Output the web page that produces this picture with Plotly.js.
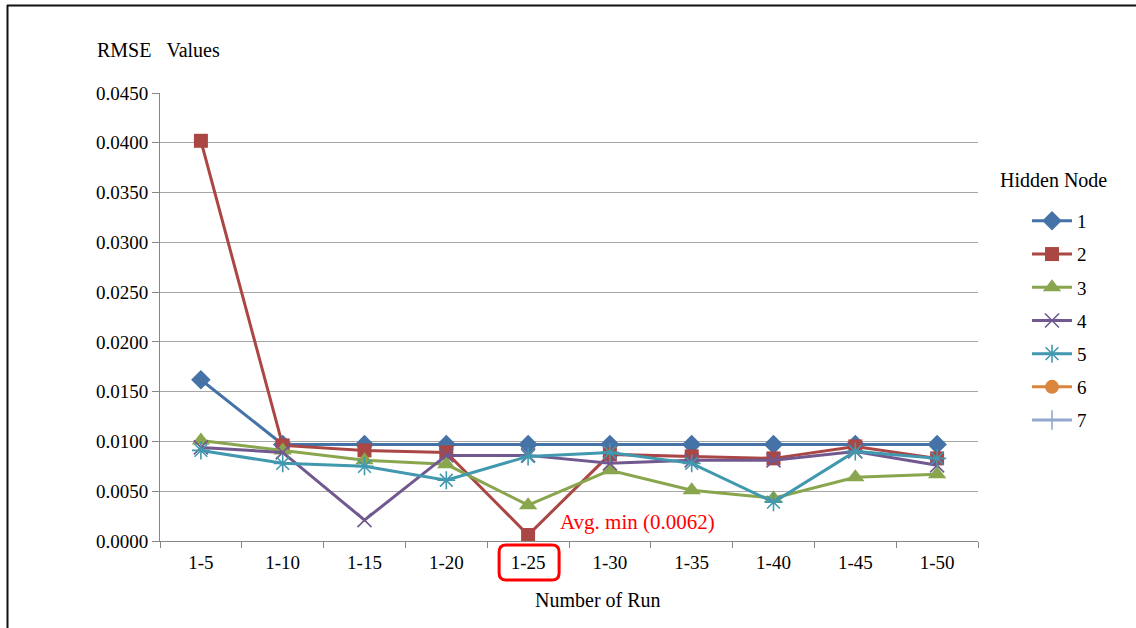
<!DOCTYPE html>
<html>
<head>
<meta charset="utf-8">
<script src="https://cdn.plot.ly/plotly-3.0.1.min.js"></script>
<style>
  html, body { margin: 0; padding: 0; background: #fff; }
  #chart { width: 1136px; height: 628px; }
</style>
</head>
<body>
<div id="chart"></div>
<script>
// Run ranges on the x axis
const runs = ['1-5', '1-10', '1-15', '1-20', '1-25', '1-30', '1-35', '1-40', '1-45', '1-50'];

// RMSE per hidden-node count
const node1 = [0.0162, 0.0097, 0.0097, 0.0097, 0.0097, 0.0097, 0.0097, 0.0097, 0.0097, 0.0097];
const node2 = [0.0402, 0.0096, 0.0091, 0.0089, 0.0006, 0.0087, 0.0085, 0.0083, 0.0095, 0.0083];
const node3 = [0.0101, 0.0091, 0.0081, 0.0077, 0.0036, 0.0071, 0.0051, 0.0043, 0.0064, 0.0067];
const node4 = [0.0094, 0.0089, 0.0021, 0.0086, 0.0086, 0.0078, 0.0081, 0.0081, 0.0090, 0.0076];
const node5 = [0.0091, 0.0078, 0.0075, 0.0061, 0.0085, 0.0089, 0.0078, 0.0039, 0.0090, 0.0083];
const node6 = [null, null, null, null, null, null, null, null, null, null];
const node7 = [null, null, null, null, null, null, null, null, null, null];

const nodeNames = ['1', '2', '3', '4', '5', '6', '7'];
const nodeSeries = [node1, node2, node3, node4, node5, node6, node7];

// Series styling
const colors = ['#4572A7', '#AA4643', '#89A54E', '#71588F', '#4198AF', '#DB843D', '#93A9CF'];
const symbols = ['diamond', 'square', 'triangle-up', 'x-thin-open', 'asterisk-open', 'circle', 'cross-thin-open'];
const sizes = [15, 14, 16, 14, 15, 14, 14];

const traces = nodeSeries.map((ys, i) => {
  const thin = symbols[i].indexOf('open') >= 0;
  return {
    type: 'scatter',
    mode: 'lines+markers',
    name: nodeNames[i],
    x: runs,
    y: ys,
    legendgroup: 'n' + i,
    line: { color: colors[i], width: 3 },
    marker: {
      symbol: symbols[i],
      size: sizes[i],
      color: colors[i],
      line: { color: colors[i], width: thin ? 1.6 : 0 }
    },
    hoverinfo: 'x+y+name'
  };
});

// Average across the plotted series for every run range; the lowest one is marked
const plotted = nodeSeries.filter(s => s.some(v => v !== null));
const avgs = runs.map((_, j) => plotted.reduce((a, s) => a + s[j], 0) / plotted.length);
let minIdx = 0;
avgs.forEach((v, j) => { if (v < avgs[minIdx]) minIdx = j; });
const minText = 'Avg. min (' + avgs[minIdx].toFixed(4) + ')';

// Page geometry helpers (pixels -> paper coordinates)
const W = 1136, H = 628;
const M = { l: 160, r: 158, t: 93, b: 87 };
const PW = W - M.l - M.r, PH = H - M.t - M.b;
const px = x => (x - M.l) / PW;
const py = y => (H - M.b - y) / PH;

// Rounded frame around the marked tick label
function roundedBox(x0, y0, x1, y1, r) {
  const dx = r / PW, dy = r / PH;
  const L = px(x0), R = px(x1), T = py(y0), B = py(y1);
  return 'M' + (L + dx) + ',' + T +
    ' L' + (R - dx) + ',' + T +
    ' Q' + R + ',' + T + ' ' + R + ',' + (T - dy) +
    ' L' + R + ',' + (B + dy) +
    ' Q' + R + ',' + B + ' ' + (R - dx) + ',' + B +
    ' L' + (L + dx) + ',' + B +
    ' Q' + L + ',' + B + ' ' + L + ',' + (B + dy) +
    ' L' + L + ',' + (T - dy) +
    ' Q' + L + ',' + T + ' ' + (L + dx) + ',' + T + ' Z';
}
const catCenter = M.l + (minIdx + 0.5) * PW / runs.length;

const serif = '"Liberation Serif", "Times New Roman", Times, serif';

const layout = {
  width: W,
  height: H,
  margin: M,
  paper_bgcolor: '#ffffff',
  plot_bgcolor: '#ffffff',
  font: { family: serif, size: 19, color: '#000000' },
  showlegend: true,
  xaxis: {
    type: 'category',
    range: [-0.5, runs.length - 0.5],
    tickson: 'boundaries',
    ticks: 'outside',
    ticklen: 6,
    tickcolor: '#868686',
    showline: true,
    linecolor: '#868686',
    linewidth: 1,
    showgrid: false,
    zeroline: false,
    ticklabelstandoff: 4,
    tickfont: { family: serif, size: 19 },
    fixedrange: true
  },
  yaxis: {
    range: [0, 0.045],
    dtick: 0.005,
    tick0: 0,
    tickformat: '.4f',
    ticks: 'outside',
    ticklen: 7,
    tickcolor: '#868686',
    showline: true,
    linecolor: '#868686',
    linewidth: 1,
    showgrid: true,
    gridcolor: '#A6A6A6',
    gridwidth: 1,
    zeroline: false,
    tickfont: { family: serif, size: 19 },
    fixedrange: true
  },
  legend: {
    x: px(1027),
    y: py(202),
    xanchor: 'left',
    yanchor: 'top',
    bgcolor: 'rgba(0,0,0,0)',
    font: { family: serif, size: 19 },
    itemwidth: 40,
    tracegroupgap: 5.5,
    traceorder: 'grouped'
  },
  annotations: [
    // y-axis caption, written horizontally above the axis
    {
      xref: 'paper', yref: 'paper',
      x: px(95), y: py(50),
      xanchor: 'left', yanchor: 'middle',
      text: 'RMSE\u00a0\u00a0\u00a0Values',
      showarrow: false,
      font: { family: serif, size: 20, color: '#000' }
    },
    // x-axis caption
    {
      xref: 'paper', yref: 'paper',
      x: px(598), y: py(600),
      xanchor: 'center', yanchor: 'middle',
      text: 'Number of Run',
      showarrow: false,
      font: { family: serif, size: 20, color: '#000' }
    },
    // legend heading
    {
      xref: 'paper', yref: 'paper',
      x: px(998), y: py(180),
      xanchor: 'left', yanchor: 'middle',
      text: 'Hidden Node',
      showarrow: false,
      font: { family: serif, size: 20, color: '#000' }
    },
    {
      xref: 'x', yref: 'y',
      x: minIdx, y: 0.0019,
      xanchor: 'left', yanchor: 'middle',
      xshift: 30,
      text: minText,
      showarrow: false,
      font: { family: serif, size: 21, color: '#FF0000' }
    }
  ],
  shapes: [
    // page frame (left and top edges)
    { type: 'line', xref: 'paper', yref: 'paper', x0: px(7.5), x1: px(7.5), y0: py(5), y1: py(640),
      line: { color: '#111', width: 2 } },
    { type: 'line', xref: 'paper', yref: 'paper', x0: px(7), x1: px(1145), y0: py(5.5), y1: py(5.5),
      line: { color: '#111', width: 2 } },
    // highlight frame around the lowest-average run label
    { type: 'path', xref: 'paper', yref: 'paper',
      path: roundedBox(catCenter - 29, 545, catCenter + 31, 580, 7),
      line: { color: '#FF0000', width: 3 }, fillcolor: 'rgba(0,0,0,0)' }
  ]
};

Plotly.newPlot('chart', traces, layout, { displayModeBar: false, staticPlot: true });
</script>
</body>
</html>
